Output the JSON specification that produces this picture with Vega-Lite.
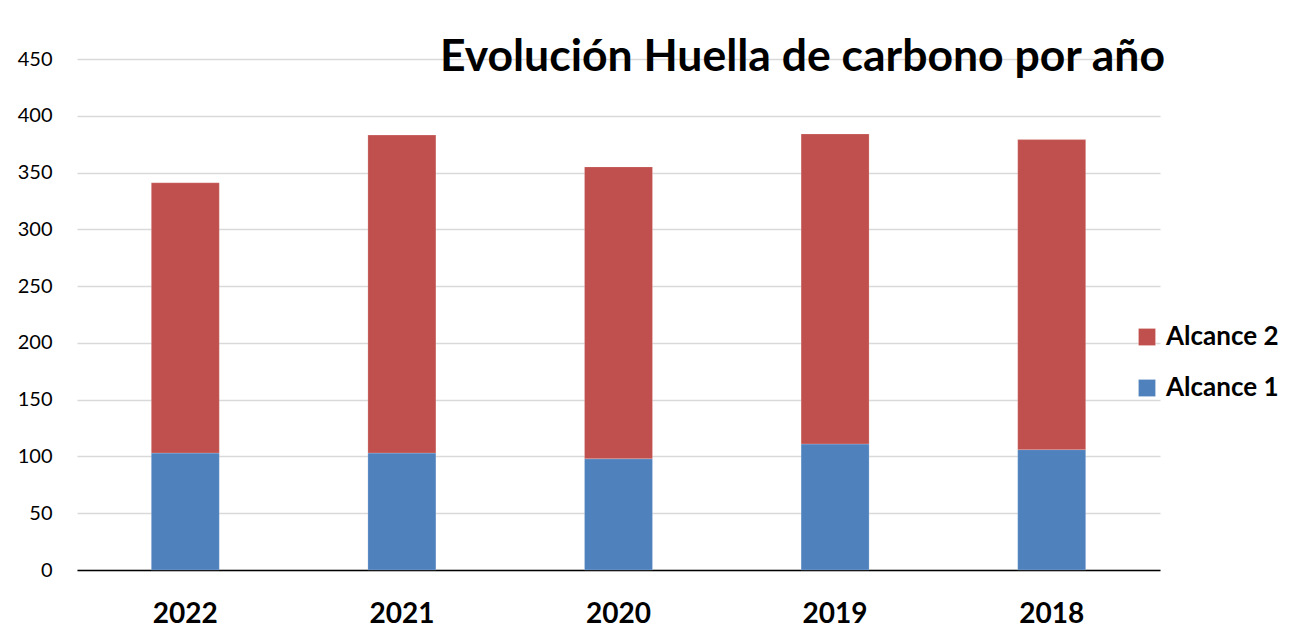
{
  "$schema": "https://vega.github.io/schema/vega-lite/v6.json",
  "autosize": {"type": "none"},
  "width": 1083,
  "height": 511,
  "padding": {"left": 77, "top": 59, "right": 151, "bottom": 67},
  "background": "#ffffff",
  "title": {
    "text": "Evolución Huella de carbono por año",
    "anchor": "end",
    "frame": "group",
    "orient": "top",
    "font": "Lato",
    "fontSize": 44.5,
    "fontWeight": "bold",
    "color": "#000000",
    "baseline": "alphabetic",
    "offset": 0,
    "dx": 5,
    "dy": 66
  },
  "data": {
    "values": [
      {"year": "2022", "serie": "Alcance 1", "value": 103},
      {"year": "2022", "serie": "Alcance 2", "value": 238},
      {"year": "2021", "serie": "Alcance 1", "value": 103},
      {"year": "2021", "serie": "Alcance 2", "value": 280},
      {"year": "2020", "serie": "Alcance 1", "value": 98},
      {"year": "2020", "serie": "Alcance 2", "value": 257},
      {"year": "2019", "serie": "Alcance 1", "value": 111},
      {"year": "2019", "serie": "Alcance 2", "value": 273},
      {"year": "2018", "serie": "Alcance 1", "value": 106},
      {"year": "2018", "serie": "Alcance 2", "value": 273}
    ]
  },
  "mark": {"type": "bar", "size": 68},
  "encoding": {
    "x": {
      "field": "year",
      "type": "nominal",
      "sort": ["2022", "2021", "2020", "2019", "2018"],
      "axis": {
        "title": null,
        "labelAngle": 0,
        "labelFont": "Lato",
        "labelFontSize": 28,
        "labelFontWeight": "bold",
        "labelColor": "#000000",
        "labelPadding": 30,
        "ticks": false,
        "domain": true,
        "domainColor": "#000000",
        "domainWidth": 1.5
      }
    },
    "y": {
      "field": "value",
      "type": "quantitative",
      "stack": "zero",
      "scale": {"domain": [0, 450], "nice": false},
      "axis": {
        "title": null,
        "values": [0, 50, 100, 150, 200, 250, 300, 350, 400, 450],
        "labelFont": "Lato",
        "labelFontSize": 20,
        "labelColor": "#000000",
        "labelPadding": 25,
        "ticks": false,
        "domain": false,
        "grid": true,
        "gridColor": "#D9D9D9",
        "gridWidth": 1.5
      }
    },
    "color": {
      "field": "serie",
      "type": "nominal",
      "scale": {"domain": ["Alcance 2", "Alcance 1"], "range": ["#C0504D", "#4F81BD"]},
      "legend": {
        "title": null,
        "orient": "none",
        "legendX": 1057,
        "legendY": 265,
        "padding": 0,
        "symbolType": "square",
        "symbolSize": 289,
        "symbolStrokeWidth": 0,
        "symbolOpacity": 1,
        "labelFont": "Lato",
        "labelFontSize": 26,
        "labelFontWeight": "bold",
        "labelColor": "#000000",
        "labelOffset": 6,
        "rowPadding": 25
      }
    },
    "order": {"field": "serie", "type": "nominal", "sort": "ascending"}
  },
  "config": {
    "view": {"stroke": null},
    "bar": {"stroke": "#ffffff", "strokeWidth": 0.5, "strokeOpacity": 0.4}
  }
}
